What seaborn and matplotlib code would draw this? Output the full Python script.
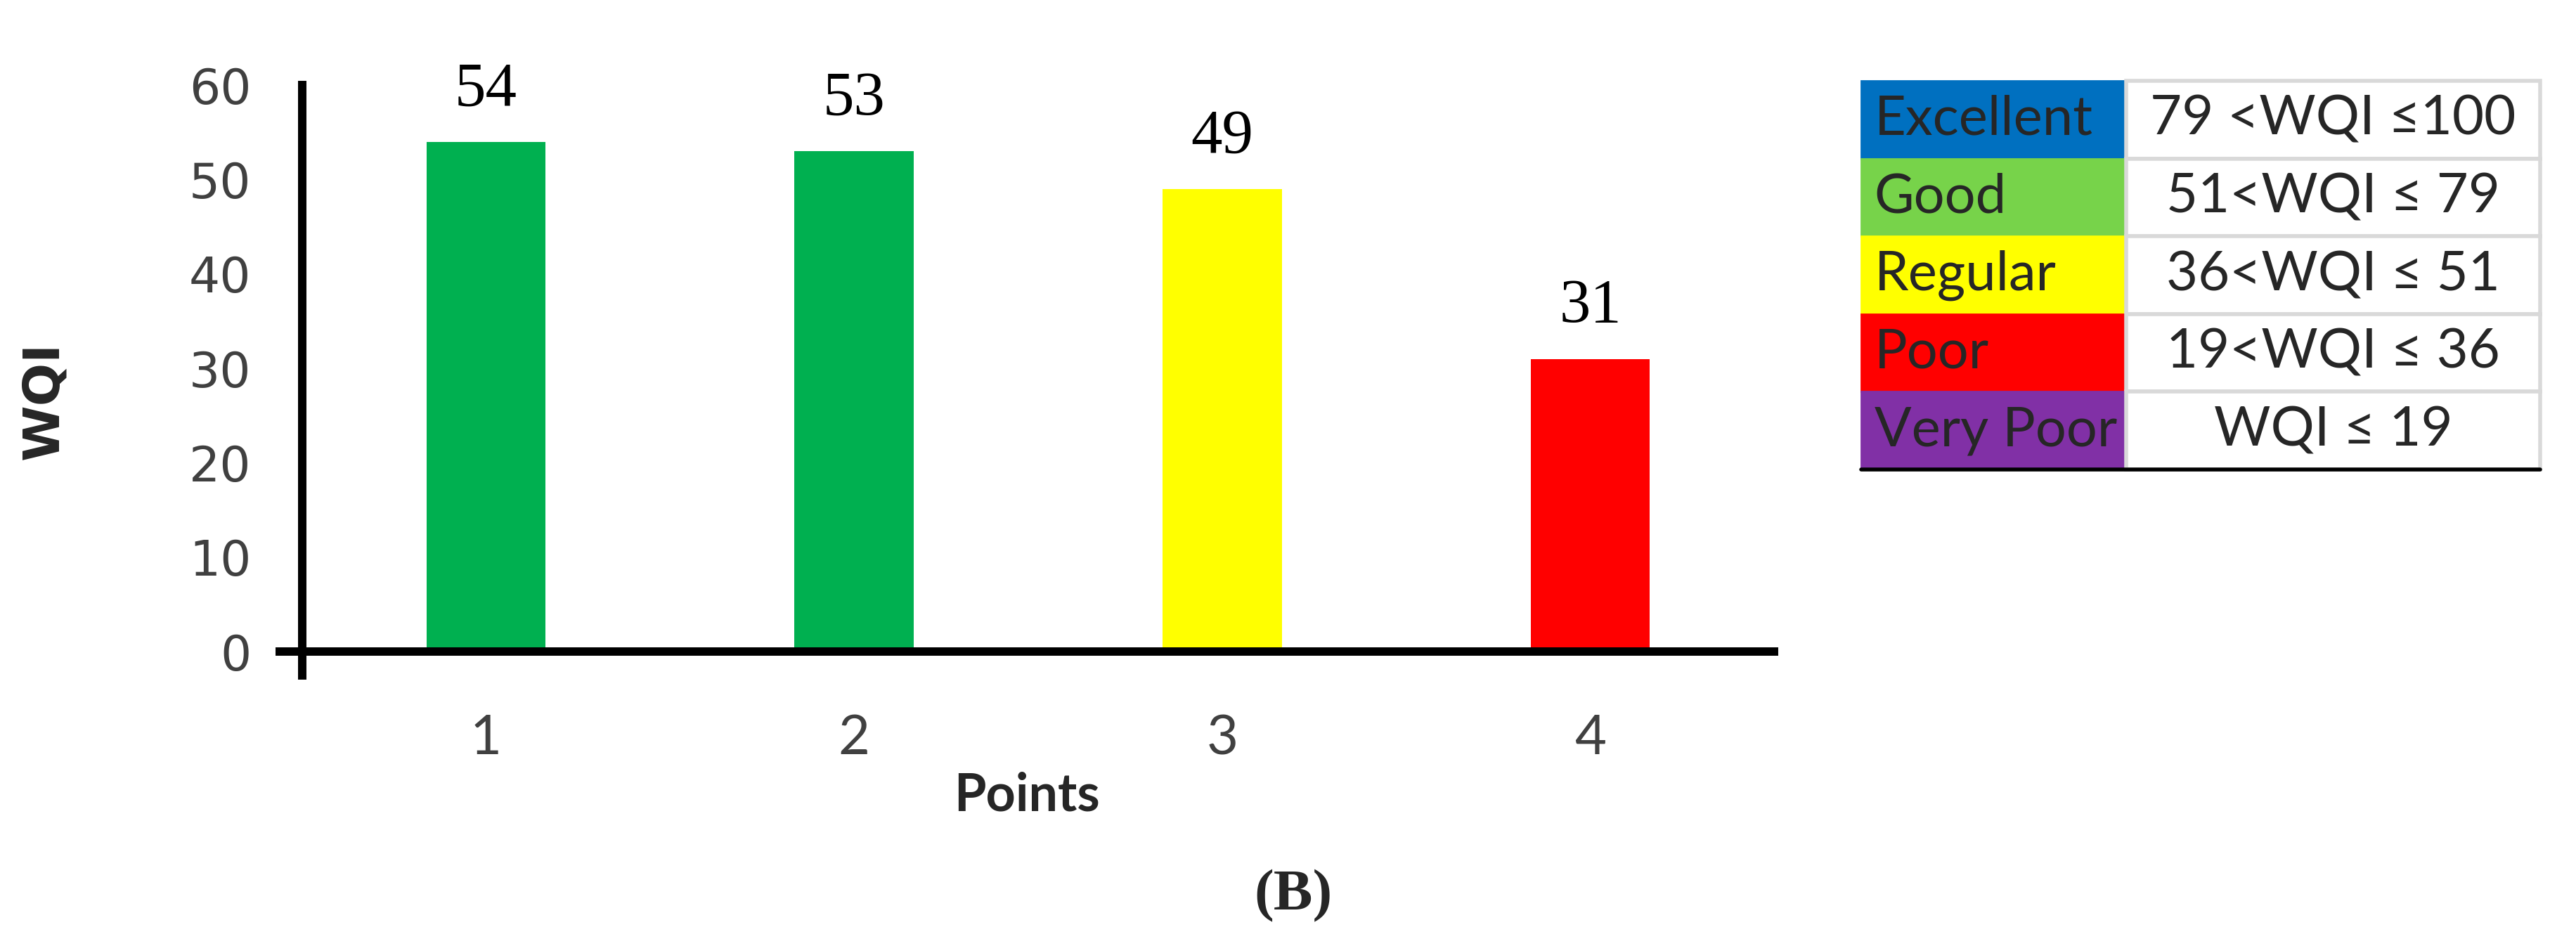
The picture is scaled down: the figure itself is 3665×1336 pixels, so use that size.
import matplotlib
matplotlib.use("Agg")
import matplotlib.pyplot as plt
import pandas as pd
import seaborn as sns

# Data
points = ["1", "2", "3", "4"]
wqi = [54, 53, 49, 31]
bar_colors = ["#00B050", "#00B050", "#FFFF00", "#FF0000"]

classes = ["Excellent", "Good", "Regular", "Poor", "Very Poor"]
ranges = ["79 <WQI \u2264100", "51<WQI \u2264 79", "36<WQI \u2264 51",
          "19<WQI \u2264 36", "WQI \u2264 19"]
class_colors = ["#0070C0", "#77D34A", "#FFFF00", "#FF0000", "#8130A6"]

df = pd.DataFrame({"Points": points, "WQI": wqi})

sns.set_style("white")
plt.rcParams["font.family"] = ["DejaVu Sans"]

fig = plt.figure(figsize=(18.33, 6.68), dpi=200)
ax = fig.add_axes([0.1086, 0.2807, 0.58, 0.6287])

sns.barplot(data=df, x="Points", y="WQI", hue="Points", order=points,
            palette=bar_colors, width=0.324, saturation=1, legend=False,
            linewidth=0, ax=ax)

# value labels on top of bars
for cont in ax.containers:
    ax.bar_label(cont, padding=12, fontsize=32, family="Liberation Serif",
                 color="black")

ax.set_xlim(-0.56, 3.5)
ax.set_ylim(-2.5, 60)
ax.set_yticks(range(0, 61, 10))

# axes crossing like the original
for s in ["top", "right"]:
    ax.spines[s].set_visible(False)
ax.spines["left"].set_position(("data", -0.5))
ax.spines["bottom"].set_position(("data", 0))
for s in ["left", "bottom"]:
    ax.spines[s].set_linewidth(4.3)
    ax.spines[s].set_color("black")

ax.tick_params(axis="y", which="major", length=7, width=1, color="#a6a6a6",
               pad=19, labelsize=25, labelcolor="#404040")
ax.tick_params(axis="x", which="major", length=0, pad=32, labelsize=28,
               labelcolor="#404040")
for lab in ax.get_xticklabels():
    lab.set_family(["Lato", "DejaVu Sans"])
ax.set_xticks([0.5, 1.5, 2.5, 3.5], minor=True)
ax.tick_params(axis="x", which="minor", length=8, width=1, color="#bfbfbf",
               direction="out")

ax.set_xlabel("Points", fontsize=26.5, fontweight="bold",
              family=["Lato", "DejaVu Sans"])
ax.xaxis.set_label_coords(0.5, -0.162)
ax.set_ylabel("WQI", fontsize=26, fontweight="bold")
ax.yaxis.set_label_coords(-0.1416, 0.465)

# classification table
tax = fig.add_axes([0.7223, 0.5, 0.2635, 0.4139])
tax.axis("off")
cell_text = [[c, r] for c, r in zip(classes, ranges)]
cell_cols = [[c, "white"] for c in class_colors]
tbl = tax.table(cellText=cell_text, cellColours=cell_cols, cellLoc="center",
                colWidths=[0.39, 0.61], bbox=[0, 0, 1, 1])
tbl.auto_set_font_size(False)
tbl.set_fontsize(28)
for (r, c), cell in tbl.get_celld().items():
    cell.get_text().set_family(["Lato", "DejaVu Sans"])
    if c == 0:
        cell.set_edgecolor(class_colors[r])
        cell.get_text().set_ha("left")
        cell.PAD = 0.05
    else:
        cell.set_edgecolor("#d9d9d9")
        cell.set_linewidth(2)
tax.plot([0, 1], [0, 0], color="black", lw=2, transform=tax.transAxes,
         clip_on=False)

fig.text(0.502, 0.0457, "(B)", ha="center", va="center", fontsize=30,
         fontweight="bold", family="Liberation Serif")

fig.savefig("out.png", dpi=200, facecolor="white")
